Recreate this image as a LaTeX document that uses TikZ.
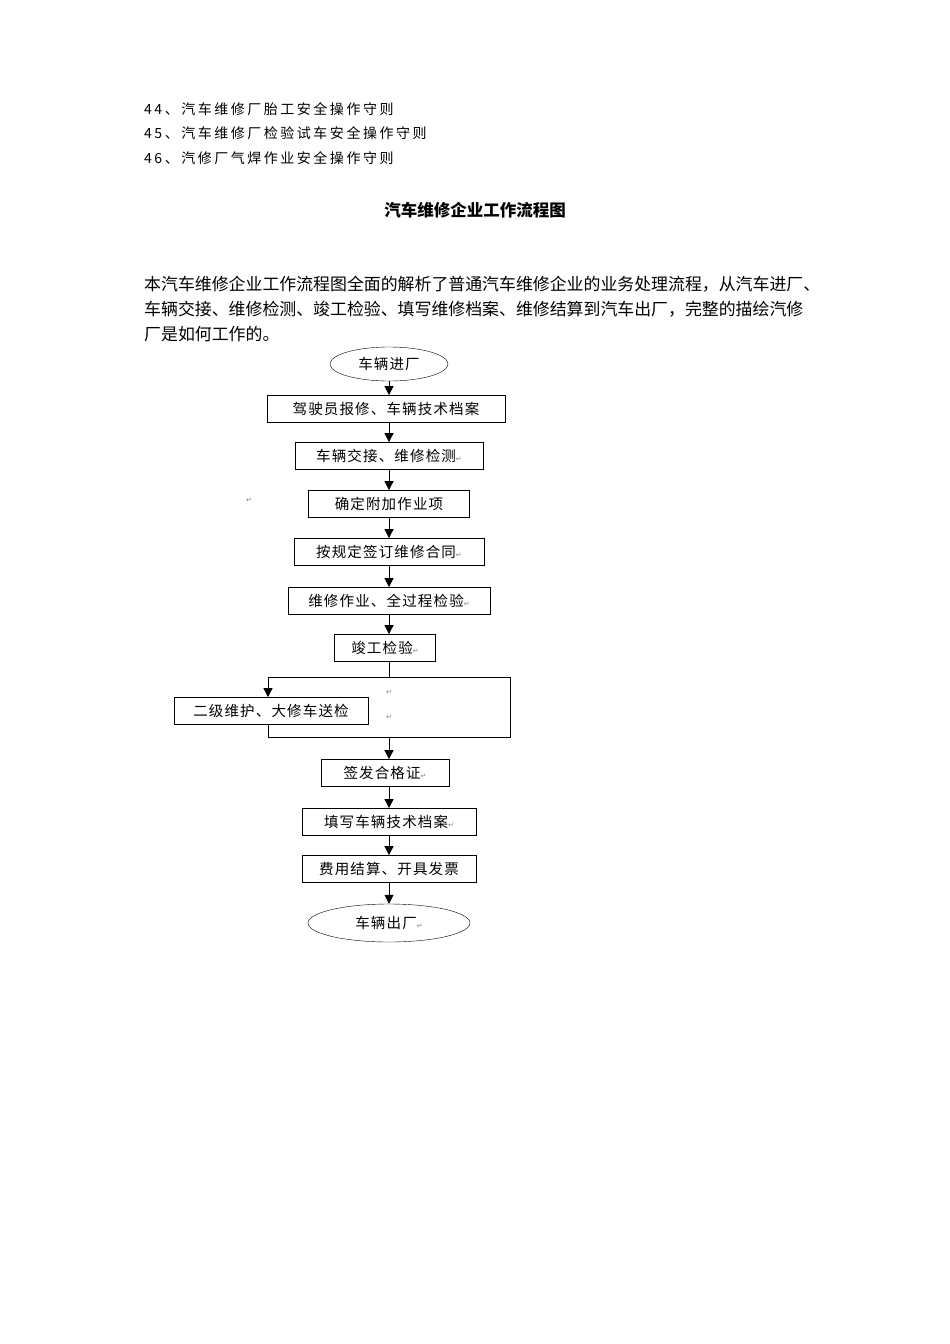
\documentclass[tikz,border=0pt]{standalone}
\usepackage{fontspec}
\setmainfont{Noto Sans CJK SC}
\newfontfamily\symf{DejaVu Sans}
\newfontfamily\spaced[LetterSpace=18]{Noto Sans CJK SC}
\newfontfamily\bspaced[LetterSpace=8]{Noto Sans CJK SC}
\usetikzlibrary{shapes.geometric,arrows.meta}
\tikzset{
 box/.style={draw,thick,minimum height=27pt,inner sep=0pt,font=\bspaced\fontsize{14.5}{14.5}\selectfont},
 oval/.style={draw,ellipse,inner sep=0pt,font=\bspaced\fontsize{14.5}{14.5}\selectfont},
 arr/.style={thick,-{Triangle[length=9pt,width=9pt]}},
 txt/.style={anchor=west,inner sep=0pt,font=\spaced\fontsize{14}{14}\selectfont},
 rt/.style={font=\symf\fontsize{7}{7}\selectfont,text=gray,inner sep=0pt}
}
\newcommand{\rr}{{\symf\fontsize{7}{7}\selectfont\textcolor{gray}{↵}}}
\begin{document}
\begin{tikzpicture}[x=1pt,y=-1pt]
\useasboundingbox[fill=white] (0,0) rectangle (950,1344);
\node[txt] (l1) at (144,109) {44、汽车维修厂胎工安全操作守则};
\node[txt] (l2) at (144,133) {45、汽车维修厂检验试车安全操作守则};
\node[txt] (l3) at (144,158) {46、汽修厂气焊作业安全操作守则};
\node[inner sep=0pt,font=\bfseries\fontsize{16.5}{16.5}\selectfont] (title) at (475,210) {汽车维修企业工作流程图};
\node[txt,font=\fontsize{16.9}{16.9}\selectfont] (p1) at (144,284) {本汽车维修企业工作流程图全面的解析了普通汽车维修企业的业务处理流程，从汽车进厂、};
\node[txt,font=\fontsize{16.9}{16.9}\selectfont] (p2) at (144,309) {车辆交接、维修检测、竣工检验、填写维修档案、维修结算到汽车出厂，完整的描绘汽修};
\node[txt,font=\fontsize{16.9}{16.9}\selectfont] (p3) at (144,334) {厂是如何工作的。};

\node[oval,minimum width=118pt,minimum height=34pt] (n1) at (389,364) {车辆进厂};
\node[box,minimum width=238pt] (n2) at (386,409) {驾驶员报修、车辆技术档案};
\node[box,minimum width=188pt] (n3) at (389,456) {车辆交接、维修检测\rr};
\node[box,minimum width=161pt] (n4) at (389,504) {确定附加作业项};
\node[box,minimum width=190pt] (n5) at (389,552) {按规定签订维修合同\rr};
\node[box,minimum width=202pt] (n6) at (389,601) {维修作业、全过程检验\rr};
\node[box,minimum width=101pt] (n7) at (385,648) {竣工检验\rr};
\node[box,minimum width=194pt] (n8) at (271,711) {二级维护、大修车送检};
\node[box,minimum width=128pt] (n9) at (385,773) {签发合格证\rr};
\node[box,minimum width=174pt] (n10) at (389,822) {填写车辆技术档案\rr};
\node[box,minimum width=174pt] (n11) at (389,869) {费用结算、开具发票};
\node[oval,minimum width=162pt,minimum height=38pt] (n12) at (389,923) {车辆出厂\rr};
\node[rt] (s1) at (249,500) {↵};
\node[rt] (s2) at (389,692) {↵};
\node[rt] (s3) at (389,717) {↵};

\coordinate (lt) at (268,677);
\coordinate (rtp) at (510,677);
\coordinate (rb) at (510,737);
\coordinate (lb) at (268,737);
\coordinate (mt) at (389,677);
\coordinate (mb) at (389,737);
\draw[thick] (lt) -- (rtp) -- (rb) -- (lb) -- (n8.south -| lb);
\draw[arr] (lt) -- (n8.north -| lt);

\draw[arr] (n1) -- (n2.north -| n1);
\draw[arr] (n2.south -| n3) -- (n3);
\draw[arr] (n3) -- (n4);
\draw[arr] (n4) -- (n5);
\draw[arr] (n5) -- (n6);
\draw[arr] (n6.south -| 389,0) -- (n7.north -| 389,0);
\draw[thick] (n7.south -| 389,0) -- (mt);
\draw[arr] (mb) -- (n9.north -| 389,0);
\draw[arr] (n9.south -| 389,0) -- (n10);
\draw[arr] (n10) -- (n11);
\draw[arr] (n11) -- (n12);
\end{tikzpicture}
\end{document}
